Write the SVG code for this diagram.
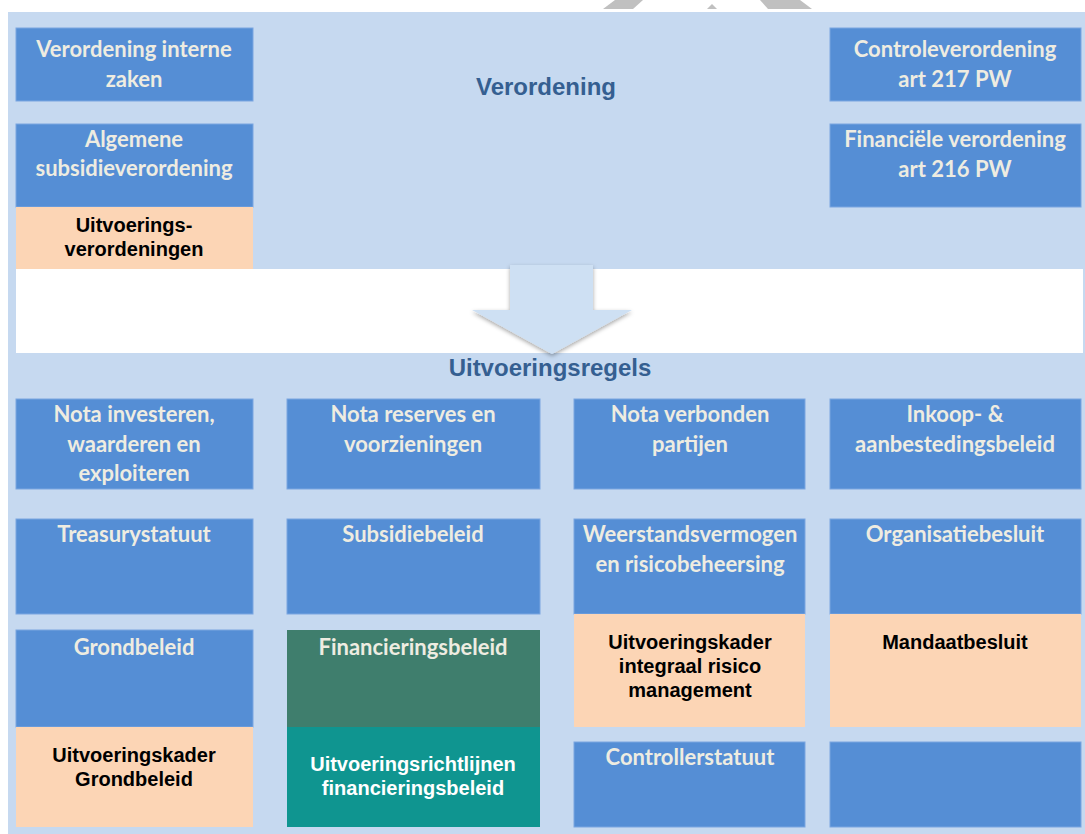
<svg xmlns="http://www.w3.org/2000/svg" width="1085" height="834" viewBox="0 0 1085 834">
<defs>
<style>
.band{fill:#C6D9F0}
.blue{fill:#558ED5;stroke:#7BA6E0;stroke-width:1}
.peach{fill:#FCD5B5}
.green{fill:#3F7E6D}
.teal{fill:#0F9590}
.ct{font-family:Lato,"Open Sans",sans-serif;font-weight:bold;font-size:22px;fill:#EEECE1;text-anchor:middle}
.at{font-family:"Liberation Sans",Arial,sans-serif;font-weight:bold;font-size:20px;fill:#000;text-anchor:middle}
.wt{font-family:"Liberation Sans",Arial,sans-serif;font-weight:bold;font-size:20px;fill:#FFFFFF;text-anchor:middle}
.hd{font-family:"Liberation Sans",Arial,sans-serif;font-weight:bold;font-size:24px;fill:#355F91;text-anchor:middle}
</style>
<filter id="sh" x="-20%" y="-20%" width="140%" height="140%">
<feDropShadow dx="0" dy="2" stdDeviation="2" flood-color="#000" flood-opacity="0.35"/>
</filter>
</defs>
<rect width="1085" height="834" fill="#FFFFFF"/>
<g id="watermark" fill="#C0C0C0">
<polygon points="603,9 633,9 643,0 615,0"/>
<polygon points="707,9 717,9 712,4"/>
<polygon points="768,9 812,9 800,0 760,0"/>
</g>
<g id="bands">
<rect class="band" x="8" y="12" width="1077" height="822"/>
<rect fill="#FFFFFF" x="16" y="269" width="1067" height="84"/>
</g>
<g id="verordening-label"><text class="hd" x="546" y="95">Verordening</text></g>
<g id="uitvoeringsregels-label"><text class="hd" x="550" y="376">Uitvoeringsregels</text></g>

<g id="verordening-interne-zaken">
<rect class="blue" x="16" y="28" width="237" height="73"/>
<text class="ct" x="134" y="57">Verordening interne</text>
<text class="ct" x="134" y="87">zaken</text>
</g>
<g id="algemene-subsidieverordening">
<rect class="blue" x="16" y="124" width="237" height="83"/>
<text class="ct" x="134" y="147">Algemene</text>
<text class="ct" x="134" y="176">subsidieverordening</text>
</g>
<g id="uitvoeringsverordeningen">
<rect class="peach" x="16" y="207" width="237" height="62"/>
<text class="at" x="134" y="232">Uitvoerings-</text>
<text class="at" x="134" y="256">verordeningen</text>
</g>
<g id="controleverordening">
<rect class="blue" x="830" y="28" width="251" height="73"/>
<text class="ct" x="955" y="57">Controleverordening</text>
<text class="ct" x="955" y="87">art 217 PW</text>
</g>
<g id="financiele-verordening">
<rect class="blue" x="830" y="124" width="251" height="83"/>
<text class="ct" x="955" y="147">Financiële verordening</text>
<text class="ct" x="955" y="177">art 216 PW</text>
</g>

<g id="connectors">
<polygon filter="url(#sh)" fill="#CEE0F3" points="510,265 593,265 593,310 632,310 552,354 472,310 510,310"/>
</g>

<g id="nota-investeren">
<rect class="blue" x="16" y="399" width="237" height="90"/>
<text class="ct" x="134" y="422">Nota investeren,</text>
<text class="ct" x="134" y="452">waarderen en</text>
<text class="ct" x="134" y="481">exploiteren</text>
</g>
<g id="nota-reserves">
<rect class="blue" x="287" y="399" width="253" height="90"/>
<text class="ct" x="413" y="422">Nota reserves en</text>
<text class="ct" x="413" y="452">voorzieningen</text>
</g>
<g id="nota-verbonden-partijen">
<rect class="blue" x="574" y="399" width="231" height="90"/>
<text class="ct" x="690" y="422">Nota verbonden</text>
<text class="ct" x="690" y="452">partijen</text>
</g>
<g id="inkoop-aanbesteding">
<rect class="blue" x="830" y="399" width="251" height="90"/>
<text class="ct" x="955" y="422">Inkoop- &amp;</text>
<text class="ct" x="955" y="452">aanbestedingsbeleid</text>
</g>

<g id="treasurystatuut">
<rect class="blue" x="16" y="519" width="237" height="95"/>
<text class="ct" x="134" y="542">Treasurystatuut</text>
</g>
<g id="subsidiebeleid">
<rect class="blue" x="287" y="519" width="253" height="95"/>
<text class="ct" x="413" y="542">Subsidiebeleid</text>
</g>
<g id="weerstandsvermogen">
<rect class="blue" x="574" y="519" width="231" height="95"/>
<text class="ct" x="690" y="542">Weerstandsvermogen</text>
<text class="ct" x="690" y="572">en risicobeheersing</text>
</g>
<g id="organisatiebesluit">
<rect class="blue" x="830" y="519" width="251" height="95"/>
<text class="ct" x="955" y="542">Organisatiebesluit</text>
</g>

<g id="grondbeleid">
<rect class="blue" x="16" y="630" width="237" height="97"/>
<text class="ct" x="134" y="655">Grondbeleid</text>
</g>
<g id="uitvoeringskader-grondbeleid">
<rect class="peach" x="16" y="727" width="237" height="100"/>
<text class="at" x="134" y="762">Uitvoeringskader</text>
<text class="at" x="134" y="786">Grondbeleid</text>
</g>
<g id="financieringsbeleid">
<rect class="green" x="287" y="630" width="253" height="97"/>
<text class="ct" x="413" y="655">Financieringsbeleid</text>
</g>
<g id="uitvoeringsrichtlijnen">
<rect class="teal" x="287" y="727" width="253" height="100"/>
<text class="wt" x="413" y="771">Uitvoeringsrichtlijnen</text>
<text class="wt" x="413" y="795">financieringsbeleid</text>
</g>
<g id="uitvoeringskader-risico">
<rect class="peach" x="574" y="614" width="231" height="113"/>
<text class="at" x="690" y="649">Uitvoeringskader</text>
<text class="at" x="690" y="673">integraal risico</text>
<text class="at" x="690" y="697">management</text>
</g>
<g id="mandaatbesluit">
<rect class="peach" x="830" y="614" width="251" height="113"/>
<text class="at" x="955" y="649">Mandaatbesluit</text>
</g>
<g id="controllerstatuut">
<rect class="blue" x="574" y="742" width="231" height="85"/>
<text class="ct" x="690" y="765">Controllerstatuut</text>
</g>
<g id="empty-box">
<rect class="blue" x="830" y="742" width="251" height="85"/>
</g>
</svg>
